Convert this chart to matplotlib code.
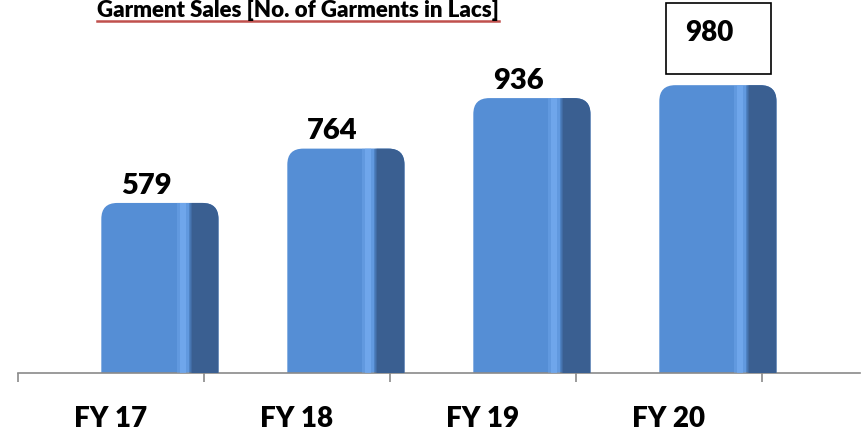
import matplotlib
matplotlib.use("Agg")
import matplotlib.pyplot as plt
from matplotlib.patches import FancyBboxPatch, Rectangle
from matplotlib.transforms import blended_transform_factory
from matplotlib.lines import Line2D

categories = ["FY 17", "FY 18", "FY 19", "FY 20"]
values = [579, 764, 936, 980]
title = "Garment Sales [No. of Garments in Lacs]"

W, H, DPI = 865, 437, 100
fig = plt.figure(figsize=(W / DPI, H / DPI), dpi=DPI)
fig.patch.set_facecolor("white")

ax_left, ax_right, ax_bottom = 18, 860, 373
ax = fig.add_axes([ax_left / W, (H - ax_bottom) / H, (ax_right - ax_left) / W, ax_bottom / H])
ax.set_xlim(0, 4.527)
ax.set_ylim(0, 1270)
for s in ["top", "left", "right"]:
    ax.spines[s].set_visible(False)
ax.spines["bottom"].set_color("#8a8a8a")
ax.spines["bottom"].set_linewidth(1.2)
ax.set_yticks([])
ax.set_xticks(range(len(categories) + 1))
ax.set_xticklabels([])
ax.tick_params(axis="x", direction="out", length=6.5, width=1.2, color="#8a8a8a")
ax.set_facecolor("none")

# pixel scales
px_x = (ax_right - ax_left) / 4.527
px_y = ax_bottom / 1270
r_px = 16
r_x = r_px / px_x
aspect = (r_px / px_y) / r_x

front_c = "#558ed5"
side_c = "#3a5f91"
stripe_c = "#74abf0"
bar_off = 0.448
bar_w = 0.63
side_w = 27 / px_x
u = 1 / px_x

for i, v in enumerate(values):
    x0 = i + bar_off
    body = FancyBboxPatch((x0, -80), bar_w, v + 80,
                          boxstyle=f"round,pad=0,rounding_size={r_x}",
                          mutation_aspect=aspect, facecolor=front_c,
                          edgecolor="none", zorder=2)
    ax.add_patch(body)
    xs = x0 + bar_w - side_w
    # soft transition to the side face
    for k, a in enumerate([0.25, 0.5, 0.75]):
        tr_ = Rectangle((xs - 3 * u + k * u, -80), u, v + 100,
                        facecolor=side_c, edgecolor="none", zorder=3, alpha=a)
        ax.add_patch(tr_)
        tr_.set_clip_path(body)
    side = Rectangle((xs, -80), side_w + 0.01, v + 100,
                     facecolor=side_c, edgecolor="none", zorder=3)
    ax.add_patch(side)
    side.set_clip_path(body)
    for (dx, wdt, a) in [(-15, 3, 0.4), (-12, 6, 0.85), (-6, 3, 0.4)]:
        st = Rectangle((xs + dx * u, -80), wdt * u, v + 100,
                       facecolor=stripe_c, edgecolor="none", zorder=3, alpha=a)
        ax.add_patch(st)
        st.set_clip_path(body)

fontname = "Lato"
label_x = [i + bar_off + (bar_w - side_w) / 2 for i in range(len(values))]
for i, v in enumerate(values[:-1]):
    ax.annotate(f"{v}", (label_x[i], v), xytext=(0, 3), textcoords="offset points",
                ha="center", va="bottom", fontsize=21, fontweight="heavy",
                family=fontname, color="black", zorder=5)

# boxed last label
bx0, bx1, by0, by1 = 666, 771, 3, 74
fig.patches.append(Rectangle((bx0 / W, 1 - by1 / H), (bx1 - bx0) / W, (by1 - by0) / H,
                             transform=fig.transFigure, facecolor="white",
                             edgecolor="black", linewidth=1.2))
fig.text(709 / W, 1 - 33 / H, f"{values[-1]}", ha="center", va="center",
         fontsize=20, fontweight="heavy", family=fontname, color="black")

# category labels
tr = blended_transform_factory(ax.transData, fig.transFigure)
for i, c in enumerate(categories):
    ax.text(i + 0.5, 1 - 419 / H, c, transform=tr, ha="center", va="center",
            fontsize=20, fontweight="heavy", family=fontname, color="black",
            clip_on=False)

# title with red underline
t = fig.text(97 / W, 1 - 17 / H, title, ha="left", va="baseline",
             fontsize=16, fontweight="heavy", family=fontname, color="black")
fig.canvas.draw()
bb = t.get_window_extent()
fig.add_artist(Line2D([bb.x0 / W, bb.x1 / W], [1 - 20.5 / H, 1 - 20.5 / H],
                      transform=fig.transFigure, color="#c0504d", linewidth=1.8))

fig.savefig("out.png", dpi=DPI, facecolor="white")
